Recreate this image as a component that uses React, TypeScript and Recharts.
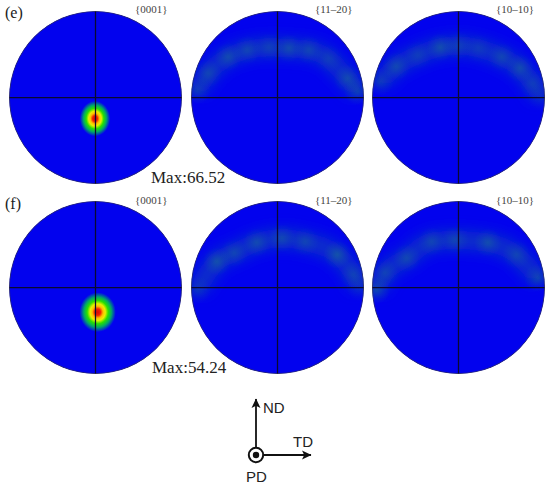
import { ScatterChart, Scatter, XAxis, YAxis } from 'recharts';

const rowLabels = ['(e)', '(f)'];
const planeLabels = ['{0001}', '{11–20}', '{10–10}'];
const maxLabels = ['Max:66.52', 'Max:54.24'];

// Basal peak per row: position on the unit disc, with half widths
const peakE = [{ x: -0.006, y: -0.244, sx: 0.175, sy: 0.205 }];
const peakF = [{ x: 0.025, y: -0.285, sx: 0.21, sy: 0.23 }];

// Ridge of the prism figures, v = relative intensity
const bandE1120 = [
  { x: -0.93, y: 0.08, v: 0.55 },
  { x: -0.8, y: 0.28, v: 0.5 },
  { x: -0.57, y: 0.47, v: 0.6 },
  { x: -0.35, y: 0.55, v: 0.5 },
  { x: -0.1, y: 0.58, v: 0.4 },
  { x: 0.13, y: 0.57, v: 0.6 },
  { x: 0.36, y: 0.55, v: 0.5 },
  { x: 0.59, y: 0.45, v: 0.35 },
  { x: 0.81, y: 0.22, v: 0.6 },
  { x: 0.93, y: 0.07, v: 0.65 },
];
const bandE1010 = [
  { x: -0.91, y: 0.18, v: 0.55 },
  { x: -0.72, y: 0.36, v: 0.55 },
  { x: -0.47, y: 0.49, v: 0.35 },
  { x: -0.21, y: 0.58, v: 0.65 },
  { x: 0, y: 0.6, v: 0.4 },
  { x: 0.23, y: 0.57, v: 0.3 },
  { x: 0.5, y: 0.47, v: 0.5 },
  { x: 0.71, y: 0.34, v: 0.6 },
  { x: 0.86, y: 0.16, v: 0.35 },
  { x: 0.96, y: 0, v: 0.3 },
];
const bandF1120 = [
  { x: -0.93, y: -0.03, v: 0.45 },
  { x: -0.7, y: 0.3, v: 0.7 },
  { x: -0.5, y: 0.4, v: 0.5 },
  { x: -0.24, y: 0.52, v: 0.6 },
  { x: 0.05, y: 0.57, v: 0.55 },
  { x: 0.32, y: 0.53, v: 0.5 },
  { x: 0.69, y: 0.38, v: 0.75 },
  { x: 0.88, y: 0.15, v: 0.45 },
  { x: 0.96, y: 0, v: 0.35 },
];
const bandF1010 = [
  { x: -0.95, y: -0.03, v: 0.75 },
  { x: -0.85, y: 0.17, v: 0.45 },
  { x: -0.6, y: 0.34, v: 0.55 },
  { x: -0.31, y: 0.53, v: 0.5 },
  { x: -0.04, y: 0.55, v: 0.5 },
  { x: 0.34, y: 0.52, v: 0.65 },
  { x: 0.67, y: 0.38, v: 0.5 },
  { x: 0.92, y: 0.11, v: 0.7 },
];

// Crosshair through the centre of each figure
const crossH = [{ x: -1, y: 0 }, { x: 1, y: 0 }];
const crossV = [{ x: 0, y: -1 }, { x: 0, y: 1 }];
const centre = [{ x: 0, y: 0 }];

const DISC = 173;
const DISC_BLUE = '#0202EE';
const SERIF = '"Liberation Serif", serif';
const SANS = '"Liberation Sans", sans-serif';

const DiscShape = (props: any) => <circle cx={props.cx} cy={props.cy} r={DISC / 2} fill={DISC_BLUE} />;
const RimShape = (props: any) => (
  <circle cx={props.cx} cy={props.cy} r={DISC / 2 - 0.4} fill="none" stroke="#3a3a55" strokeWidth={0.8} />
);

const PeakShape = (props: any) => {
  const { cx, cy, payload } = props;
  return (
    <ellipse
      cx={cx}
      cy={cy}
      rx={(payload.sx * DISC) / 2}
      ry={(payload.sy * DISC) / 2}
      fill="url(#peakFill)"
    />
  );
};

const SpotShape = (props: any) => {
  const { cx, cy, payload } = props;
  return <circle cx={cx} cy={cy} r={14} fill="url(#spotFill)" opacity={payload.v * 0.7} />;
};

const NoPoint = () => null;

const crossLine = { stroke: '#0a0a30', strokeWidth: 1.25 };

function PoleFigure({ left, top, peak, band }: any) {
  return (
    <div
      style={{
        position: 'absolute',
        left,
        top,
        width: DISC,
        height: DISC,
        clipPath: 'circle(50%)',
      }}
    >
      <ScatterChart width={DISC} height={DISC} margin={{ top: 0, right: 0, bottom: 0, left: 0 }}>
        <defs>
          <radialGradient id="peakFill">
            <stop offset="0%" stopColor="#d80808" />
            <stop offset="16%" stopColor="#f02000" />
            <stop offset="30%" stopColor="#ffc000" />
            <stop offset="42%" stopColor="#e8f000" />
            <stop offset="58%" stopColor="#28e000" />
            <stop offset="76%" stopColor="#00a868" />
            <stop offset="100%" stopColor={DISC_BLUE} />
          </radialGradient>
          <radialGradient id="spotFill">
            <stop offset="0%" stopColor="#1f8a78" stopOpacity={0.8} />
            <stop offset="55%" stopColor="#1f8a78" stopOpacity={0.3} />
            <stop offset="100%" stopColor="#1f8a78" stopOpacity={0} />
          </radialGradient>
          <filter id="bandBlur" filterUnits="userSpaceOnUse" x={-40} y={-40} width={DISC + 80} height={DISC + 80}>
            <feGaussianBlur stdDeviation={7} />
          </filter>
        </defs>
        <XAxis type="number" dataKey="x" domain={[-1, 1]} hide />
        <YAxis type="number" dataKey="y" domain={[-1, 1]} hide />
        <Scatter data={centre} isAnimationActive={false} shape={DiscShape} />
        {band && (
          <Scatter
            data={band}
            isAnimationActive={false}
            line={{ stroke: '#0c55a8', strokeWidth: 19, strokeOpacity: 0.55, filter: 'url(#bandBlur)' }}
            lineType="joint"
            lineJointType="monotoneX"
            shape={SpotShape}
          />
        )}
        {peak && <Scatter data={peak} isAnimationActive={false} shape={PeakShape} />}
        <Scatter data={crossH} isAnimationActive={false} line={crossLine} lineType="joint" shape={NoPoint} />
        <Scatter data={crossV} isAnimationActive={false} line={crossLine} lineType="joint" shape={NoPoint} />
        <Scatter data={centre} isAnimationActive={false} shape={RimShape} />
      </ScatterChart>
    </div>
  );
}

function Caption({ x, y, size, color, font, children }: any) {
  return (
    <div
      style={{
        position: 'absolute',
        left: x,
        top: y - size * 0.6,
        fontFamily: font,
        fontSize: size,
        lineHeight: `${size * 1.2}px`,
        color,
        whiteSpace: 'nowrap',
      }}
    >
      {children}
    </div>
  );
}

export default function App() {
  const rows = [
    { top: 11, peak: peakE, b1: bandE1120, b2: bandE1010, labelY: 13, planeY: 10, maxY: 178, maxX: 151 },
    { top: 201, peak: peakF, b1: bandF1120, b2: bandF1010, labelY: 204, planeY: 200.5, maxY: 368, maxX: 152 },
  ];
  return (
    <div style={{ position: 'absolute', left: 0, top: 0, width: 550, height: 486, background: '#fff', overflow: 'hidden' }}>
      {rows.map((r, i) => (
        <div key={rowLabels[i]}>
          <PoleFigure left={9} top={r.top} peak={r.peak} />
          <PoleFigure left={191} top={r.top} band={r.b1} />
          <PoleFigure left={372} top={r.top} band={r.b2} />
          <Caption x={5} y={r.labelY} size={16} color="#222" font={SERIF}>{rowLabels[i]}</Caption>
          <Caption x={135} y={r.planeY} size={11} color="#444" font={SERIF}>{planeLabels[0]}</Caption>
          <Caption x={315} y={r.planeY} size={11} color="#444" font={SERIF}>{planeLabels[1]}</Caption>
          <Caption x={496} y={r.planeY} size={11} color="#444" font={SERIF}>{planeLabels[2]}</Caption>
          <Caption x={r.maxX} y={r.maxY} size={17} color="#222" font={SERIF}>{maxLabels[i]}</Caption>
        </div>
      ))}
      <svg width={550} height={486} style={{ position: 'absolute', left: 0, top: 0, pointerEvents: 'none' }}>
        <defs>
          <marker id="triadHead" markerWidth={10} markerHeight={10} refX={9} refY={5} orient="auto" markerUnits="userSpaceOnUse">
            <path d="M0,0.5 L9.5,5 L0,9.5 L2.2,5 Z" fill="#111" />
          </marker>
        </defs>
        <line x1={256} y1={447} x2={256} y2={399} stroke="#111" strokeWidth={1.8} markerEnd="url(#triadHead)" />
        <line x1={264} y1={455} x2={311} y2={455} stroke="#111" strokeWidth={1.8} markerEnd="url(#triadHead)" />
        <circle cx={256} cy={455} r={7.2} fill="#fff" stroke="#111" strokeWidth={2} />
        <circle cx={256} cy={455} r={3.2} fill="#111" />
      </svg>
      <Caption x={263} y={408} size={15} color="#222" font={SANS}>ND</Caption>
      <Caption x={293} y={442} size={15} color="#222" font={SANS}>TD</Caption>
      <Caption x={246} y={477} size={15} color="#222" font={SANS}>PD</Caption>
    </div>
  );
}
